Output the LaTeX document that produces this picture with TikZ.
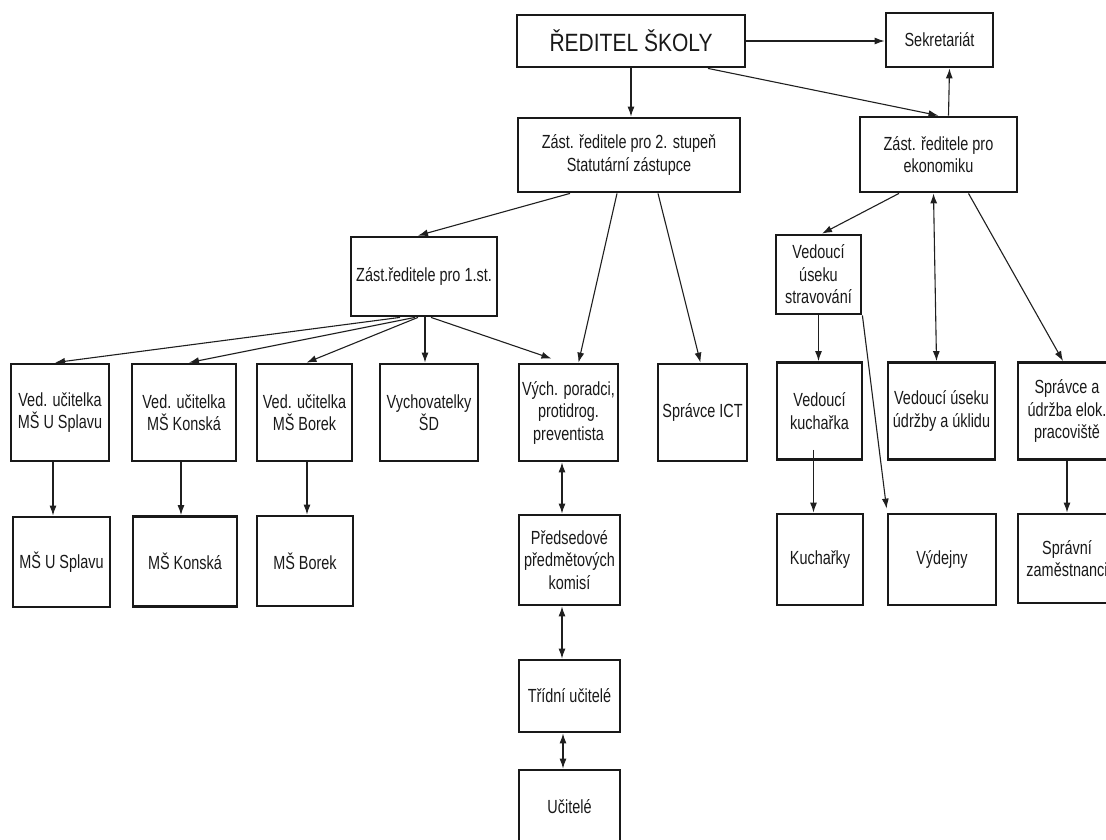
\documentclass[tikz,border=0pt]{standalone}
\usepackage{fontspec}
\setmainfont{Liberation Sans}[FakeStretch=0.76]
\newfontfamily\titlefont{Liberation Sans}[FakeStretch=0.84]
\usepackage{tikz}
\usetikzlibrary{arrows.meta}

\begin{document}
\begin{tikzpicture}[x=1pt,y=-1pt,
        box/.style={draw=black!90,line width=2.8pt,inner sep=0pt,align=center,
            text=black!90,font=\fontsize{19}{22.5}\selectfont},
        conn/.style={draw=black!88,line width=1.1pt,-{Latex[length=10pt,width=7pt]}},
        dconn/.style={conn,{Latex[length=10pt,width=7pt]}-{Latex[length=10pt,width=7pt]}}]
        \useasboundingbox (0,0) rectangle (1106,839);
        \clip (0,0) rectangle (1106,839);
        % Vedeni skoly
        \node[box,minimum width=228pt,minimum height=52pt,font=\titlefont\fontsize{25}{28}\selectfont] (red) at (631,41) {ŘEDITEL ŠKOLY};
        \node[box,minimum width=107pt,minimum height=54pt] (sekr) at (939.5,40) {Sekretariát};
        \node[box,minimum width=222pt,minimum height=74pt] (zast2) at (629,155) {Zást. ředitele pro 2. stupeň\\Statutární zástupce};
        \node[box,minimum width=157pt,minimum height=75pt] (zastek) at (938.5,154.5) {Zást. ředitele pro\\ekonomiku};
        \node[box,minimum width=146pt,minimum height=79pt] (zast1) at (424,276.5) {Zást.ředitele pro 1.st.};
        \node[box,minimum width=85pt,minimum height=79pt] (strav) at (818.5,274.5) {Vedoucí\\úseku\\stravování};
        % Treti rada
        \node[box,minimum width=98pt,minimum height=97pt] (vedsplav) at (60,412.5) {Ved. učitelka\\MŠ U Splavu};
        \node[box,minimum width=104pt,minimum height=97pt] (vedkonska) at (184,412.5) {Ved. učitelka\\MŠ Konská};
        \node[box,minimum width=95pt,minimum height=97pt] (vedborek) at (304.5,412.5) {Ved. učitelka\\MŠ Borek};
        \node[box,minimum width=98pt,minimum height=97pt] (vychov) at (429,412.5) {Vychovatelky\\ŠD};
        \node[box,minimum width=99pt,minimum height=97pt] (poradci) at (568.5,412.5) {Vých. poradci,\\protidrog.\\preventista};
        \node[box,minimum width=89pt,minimum height=97pt] (ict) at (702.5,412.5) {Správce ICT};
        \node[box,minimum width=85pt,minimum height=97pt] (vedkuch) at (819.5,411) {Vedoucí\\kuchařka};
        \node[box,minimum width=107pt,minimum height=97pt] (udrzba) at (941.5,411) {Vedoucí úseku\\údržby a úklidu};
        \node[box,minimum width=98pt,minimum height=97pt] (spravce) at (1067,411) {Správce a\\údržba elok.\\pracoviště};
        % Ctvrta rada
        \node[box,minimum width=97pt,minimum height=90pt] (splav) at (61.5,562) {MŠ U Splavu};
        \node[box,minimum width=104pt,minimum height=90pt] (konska) at (185,561.5) {MŠ Konská};
        \node[box,minimum width=96pt,minimum height=90pt] (borek) at (305,561) {MŠ Borek};
        \node[box,minimum width=101pt,minimum height=90pt] (predsed) at (569.5,560) {Předsedové\\předmětových\\komisí};
        \node[box,minimum width=86pt,minimum height=91pt] (kuchar) at (820,559.5) {Kuchařky};
        \node[box,minimum width=108pt,minimum height=91pt] (vydejny) at (942,559.5) {Výdejny};
        \node[box,minimum width=98pt,minimum height=89pt] (spravni) at (1067,558.5) {Správní\\zaměstnanci};
        \node[box,minimum width=101pt,minimum height=72pt] (tridni) at (569.5,696) {Třídní učitelé};
        \node[box,minimum width=101pt,minimum height=74pt] (ucitele) at (569.5,807) {Učitelé};
        % Spojnice shora
        \draw[conn] (red.east) -- (red.east -| sekr.west);
        \draw[conn] ([xshift=77pt]red.south) -- (zastek.north);
        \draw[conn] (red.south) -- (red.south |- zast2.north);
        \draw[conn] ([xshift=10pt]zastek.north) -- ([xshift=10pt]sekr.south);
        \draw[conn] ([xshift=-59pt]zast2.south) -- ([xshift=-6pt]zast1.north);
        \draw[conn] ([xshift=-12pt]zast2.south) -- ([xshift=10pt]poradci.north);
        \draw[conn] ([xshift=29pt]zast2.south) -- ([xshift=-2pt]ict.north);
        % Zast. pro 1. stupen
        \draw[conn] ([xshift=-24pt]zast1.south) -- ([xshift=-5pt]vedsplav.north);
        \draw[conn] ([xshift=-9pt]zast1.south) -- ([xshift=5pt]vedkonska.north);
        \draw[conn] ([xshift=-6pt]zast1.south) -- ([xshift=2pt]vedborek.north);
        \draw[conn] ([xshift=1pt]zast1.south) -- ([xshift=1pt]zast1.south |- vychov.north);
        \draw[conn] ([xshift=7pt]zast1.south) -- ([xshift=-17pt,yshift=4pt]poradci.north);
        % Ekonomicky usek
        \draw[conn] ([xshift=-39.5pt]zastek.south) -- ([xshift=3.5pt]strav.north);
        \draw[dconn] ([xshift=-5pt]zastek.south) -- ([xshift=-5pt]udrzba.north);
        \draw[conn] ([xshift=30pt]zastek.south) -- ([xshift=-4pt]spravce.north);
        \draw[conn] (strav.south) -- (strav.south |- vedkuch.north);
        \draw[conn] (strav.south east) -- ([yshift=4pt]vydejny.north west);
        \draw[conn] ([xshift=-6pt,yshift=11pt]vedkuch.south) -- ([xshift=-6pt]vedkuch.south |- kuchar.north);
        \draw[conn] (spravce.south) -- (spravce.south |- spravni.north);
        % Materske skoly
        \draw[conn] ([xshift=-7pt]vedsplav.south) -- ([xshift=-7pt]vedsplav.south |- splav.north);
        \draw[conn] ([xshift=-3pt]vedkonska.south) -- ([xshift=-3pt]vedkonska.south |- konska.north);
        \draw[conn] ([xshift=2.5pt]vedborek.south) -- ([xshift=2.5pt]vedborek.south |- borek.north);
        % Pedagogove
        \draw[dconn] ([xshift=-6.5pt]poradci.south) -- ([xshift=-6.5pt]poradci.south |- predsed.north);
        \draw[dconn] ([xshift=-7.5pt]predsed.south) -- ([xshift=-7.5pt]predsed.south |- tridni.north);
        \draw[dconn] ([xshift=-6.5pt]tridni.south) -- ([xshift=-6.5pt]tridni.south |- ucitele.north);
\end{tikzpicture}
\end{document}
